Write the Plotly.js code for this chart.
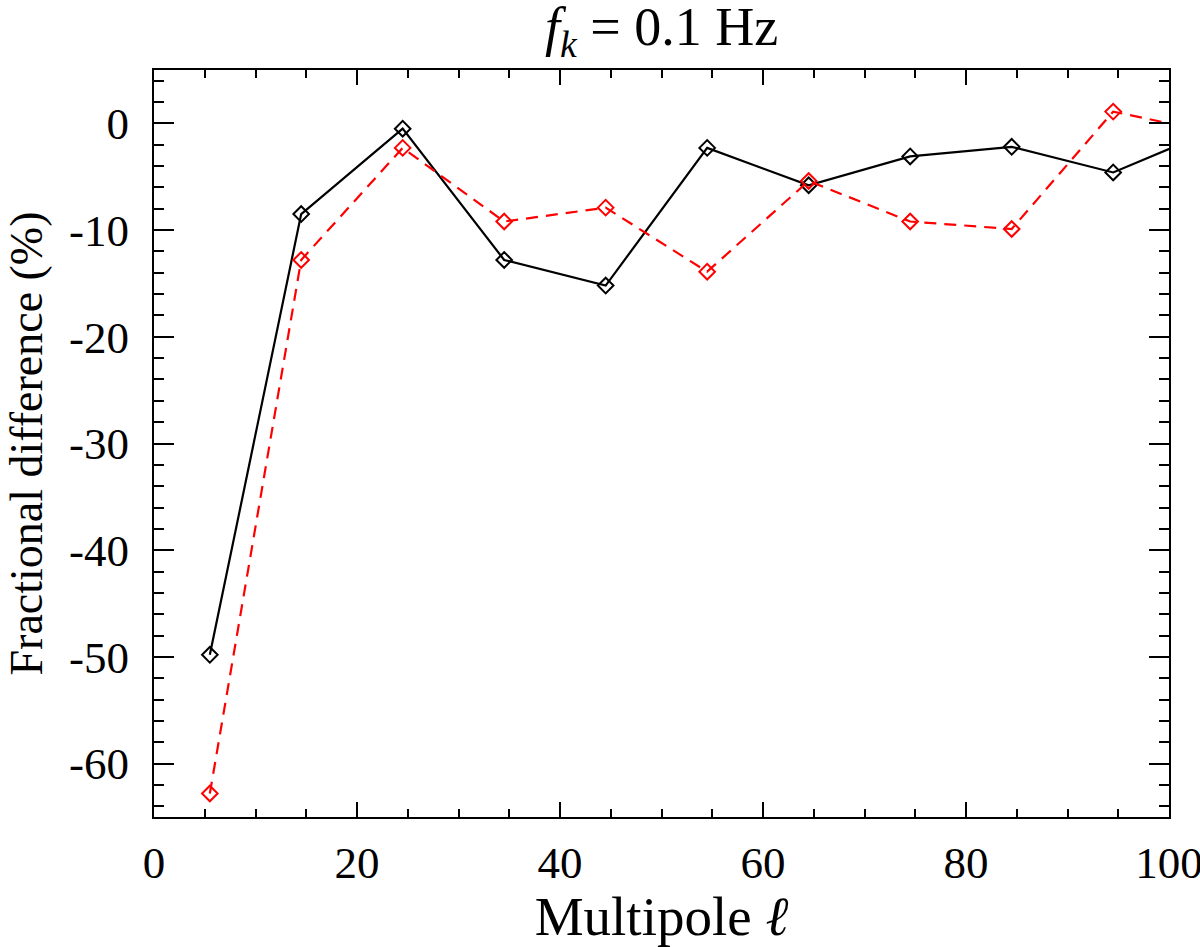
<!DOCTYPE html>
<html>
<head>
<meta charset="utf-8">
<script src="https://cdn.plot.ly/plotly-3.0.1.min.js"></script>
<style>html,body{margin:0;padding:0;background:#fff;}#chart{width:1200px;height:947px;}</style>
</head>
<body>
<div id="chart"></div>
<script>
// Multipole bin centres (last one lies beyond the axis range and is clipped)
const multipole = [5.5, 14.5, 24.5, 34.5, 44.5, 54.5, 64.5, 74.5, 84.5, 94.5, 104.5];
// Fractional difference (%) - black solid series
const blackDiff = [-49.8, -8.5, -0.5, -12.8, -15.2, -2.3, -5.8, -3.1, -2.2, -4.6, -0.6];
// Fractional difference (%) - red dashed series
const redDiff = [-62.8, -12.8, -2.3, -9.2, -7.9, -13.9, -5.4, -9.2, -9.9, 1.1, -0.9];

const xTickVals = [0, 20, 40, 60, 80, 100];
const xTickText = ["0", "20", "40", "60", "80", "100"];
const yTickVals = [0, -10, -20, -30, -40, -50, -60];
const yTickText = ["0", "-10", "-20", "-30", "-40", "-50", "-60"];

const FONT = "Liberation Serif, Times New Roman, serif";

const traces = [
  {
    x: multipole, y: blackDiff, type: "scatter", mode: "lines+markers",
    line: {color: "#000000", width: 2.2},
    marker: {symbol: "diamond-open", size: 12, color: "#000000", line: {width: 2, color: "#000000"}},
    cliponaxis: true, showlegend: false
  },
  {
    x: multipole, y: redDiff, type: "scatter", mode: "lines+markers",
    line: {color: "#ff0000", width: 2.2, dash: "12px,8px"},
    marker: {symbol: "diamond-open", size: 12, color: "#ff0000", line: {width: 2, color: "#ff0000"}},
    cliponaxis: true, showlegend: false
  }
];

const layout = {
  width: 1200, height: 947,
  paper_bgcolor: "#ffffff", plot_bgcolor: "#ffffff",
  font: {family: FONT, color: "#000000", size: 44},
  margin: {l: 154, r: 31, t: 70, b: 130, pad: 0},
  title: {
    text: "<i>f</i><sub><i>k</i></sub> = 0.1 Hz",
    font: {family: FONT, size: 54, color: "#000000"},
    x: 0.5, xanchor: "center", xref: "paper",
    y: 0.972, yanchor: "middle"
  },
  xaxis: {
    range: [0, 100], autorange: false,
    tickmode: "array", tickvals: xTickVals, ticktext: xTickText,
    ticks: "inside", ticklen: 15, tickwidth: 2, tickcolor: "#000",
    minor: {dtick: 5, tick0: 0, ticks: "inside", ticklen: 8, tickwidth: 2, tickcolor: "#000", showgrid: false},
    showline: true, linewidth: 2, linecolor: "#000", mirror: "ticks",
    showgrid: false, zeroline: false,
    tickfont: {family: FONT, size: 45, color: "#000"},
    ticklabelstandoff: 5,
    ticklabeloverflow: "allow",
    title: {text: "Multipole <i>ℓ</i>", font: {family: FONT, size: 55, color: "#000"}, standoff: 4},
    automargin: false
  },
  yaxis: {
    range: [-65, 5], autorange: false,
    tickmode: "array", tickvals: yTickVals, ticktext: yTickText,
    ticks: "inside", ticklen: 20, tickwidth: 2, tickcolor: "#000",
    minor: {dtick: 2, tick0: 0, ticks: "inside", ticklen: 10, tickwidth: 2, tickcolor: "#000", showgrid: false},
    showline: true, linewidth: 2, linecolor: "#000", mirror: "ticks",
    showgrid: false, zeroline: false,
    tickfont: {family: FONT, size: 45, color: "#000"},
    ticklabelstandoff: 14,
    ticklabeloverflow: "allow",
    title: {text: "Fractional difference (%)", font: {family: FONT, size: 46, color: "#000"}, standoff: 12},
    automargin: false
  }
};

Plotly.newPlot("chart", traces, layout, {displayModeBar: false, staticPlot: true});
</script>
</body>
</html>
